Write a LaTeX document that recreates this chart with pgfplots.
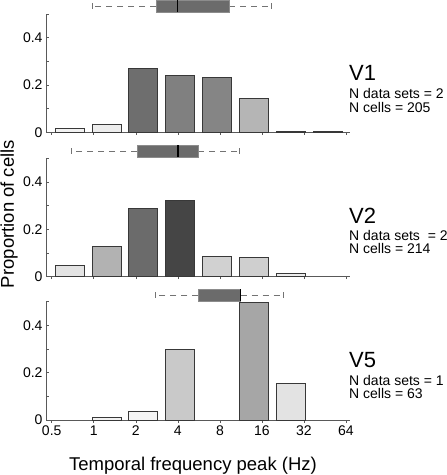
\documentclass[border=0pt]{standalone}
\usepackage{pgfplots}
\pgfplotsset{compat=1.18}
\usepgfplotslibrary{statistics}
\usepackage{fontspec}
\setmainfont{Liberation Sans}
\newcommand{\tickfont}{\fontsize{14}{16}\selectfont}
\pgfplotsset{
  panel/.style={
    scale only axis, width=304pt, height=118.5pt,
    xmin=46, xmax=350, ymin=0, ymax=0.5,
    axis x line*=bottom, axis y line*=left,
    axis line style={-, draw=black!65, line width=0.6pt},
    xtick={51.7,93.7,135.8,177.8,219.9,261.9,303.9,346.0},
    ytick={0,0.2,0.4}, minor ytick={0.1,0.3,0.5},
    tick align=inside, major tick length=2.5pt, minor tick length=2.5pt,
    tick style={black!65, line width=0.5pt},
    tick label style={font=\tickfont},
    /pgf/number format/assume math mode=true,
    yticklabel style={/pgf/number format/fixed},
    ybar, bar shift=0pt, bar width=29,
    clip=false,
  },
  bx/.style={draw=black!78, line width=0.7pt, fill=#1},
  bp/.style={
    boxplot/every box/.style={fill=black!58, draw=black!45, line width=0.6pt},
    boxplot/every median/.style={black, line width=1.3pt},
    boxplot/every whisker/.style={black!55, line width=0.8pt, dash pattern=on 6pt off 5pt},
  },
}
\begin{document}
\begin{tikzpicture}
\useasboundingbox (0pt,0pt) rectangle (447pt,-475pt);

% ---------- V1 ----------
\begin{axis}[panel, at={(46pt,-132.3pt)}, anchor=south west, xticklabels={}]
\addplot[bx=black!5]  coordinates {(69.5,0.017)};
\addplot[bx=black!7]  coordinates {(106.4,0.032)};
\addplot[bx=black!57] coordinates {(143.3,0.268)};
\addplot[bx=black!50] coordinates {(180.2,0.240)};
\addplot[bx=black!48] coordinates {(217.1,0.233)};
\addplot[bx=black!29] coordinates {(254.0,0.142)};
\addplot[bx=black!73] coordinates {(290.9,0.004)};
\addplot[bx=black!68] coordinates {(327.8,0.004)};
\addplot[bp, boxplot prepared={draw direction=x, draw position=0.533,
   box extend=0.052, whisker extend=0.024,
   lower whisker=92.7, lower quartile=156, median=177.3,
   upper quartile=229.3, upper whisker=271.7}] coordinates {};
\end{axis}

% ---------- V2 ----------
\begin{axis}[panel, at={(46pt,-276.7pt)}, anchor=south west, xticklabels={}]
\addplot[bx=black!11] coordinates {(69.5,0.048)};
\addplot[bx=black!30] coordinates {(106.4,0.126)};
\addplot[bx=black!58] coordinates {(143.3,0.287)};
\addplot[bx=black!73] coordinates {(180.2,0.323)};
\addplot[bx=black!18] coordinates {(217.1,0.087)};
\addplot[bx=black!19] coordinates {(254.0,0.083)};
\addplot[bx=black!7]  coordinates {(290.9,0.014)};
\addplot[bp, boxplot prepared={draw direction=x, draw position=0.530,
   box extend=0.050, whisker extend=0.024,
   lower whisker=71, lower quartile=137, median=178,
   upper quartile=198, upper whisker=239}] coordinates {};
\end{axis}

% ---------- V5 ----------
\begin{axis}[panel, at={(46pt,-420pt)}, anchor=south west,
   xticklabels={0.5,1,2,4,8,16,32,64}]
\addplot[bx=black!5]  coordinates {(106.4,0.013)};
\addplot[bx=black!4]  coordinates {(143.3,0.035)};
\addplot[bx=black!21] coordinates {(180.2,0.298)};
\addplot[bx=black!35] coordinates {(254.0,0.495)};
\addplot[bx=black!11] coordinates {(290.9,0.155)};
\addplot[bp, boxplot prepared={draw direction=x, draw position=0.527,
   box extend=0.050, whisker extend=0.024,
   lower whisker=155.7, lower quartile=198.3, median=240.5,
   upper quartile=240.7, upper whisker=283.3}] coordinates {};
\end{axis}

% ---------- texts ----------
\node[anchor=base west, font=\fontsize{22}{24}\selectfont, inner sep=0pt] at (349pt,-80pt) {V1};
\node[anchor=base west, font=\fontsize{14}{16}\selectfont, inner sep=0pt] at (349pt,-98pt) {N data sets = 2};
\node[anchor=base west, font=\fontsize{14}{16}\selectfont, inner sep=0pt] at (349pt,-112pt) {N cells = 205};

\node[anchor=base west, font=\fontsize{22}{24}\selectfont, inner sep=0pt] at (349pt,-223pt) {V2};
\node[anchor=base west, font=\fontsize{14}{16}\selectfont, inner sep=0pt] at (349pt,-240pt) {N data sets~ = 2};
\node[anchor=base west, font=\fontsize{14}{16}\selectfont, inner sep=0pt] at (349pt,-253pt) {N cells = 214};

\node[anchor=base west, font=\fontsize{22}{24}\selectfont, inner sep=0pt] at (349pt,-367pt) {V5};
\node[anchor=base west, font=\fontsize{14}{16}\selectfont, inner sep=0pt] at (349pt,-385pt) {N data sets = 1};
\node[anchor=base west, font=\fontsize{14}{16}\selectfont, inner sep=0pt] at (349pt,-398pt) {N cells = 63};

\node[rotate=90, font=\fontsize{18.5}{20}\selectfont, inner sep=0pt] at (9pt,-214pt) {Proportion of cells};
\node[anchor=base, font=\fontsize{18.5}{20}\selectfont, inner sep=0pt] at (193pt,-470pt) {Temporal frequency peak (Hz)};
\end{tikzpicture}
\end{document}
